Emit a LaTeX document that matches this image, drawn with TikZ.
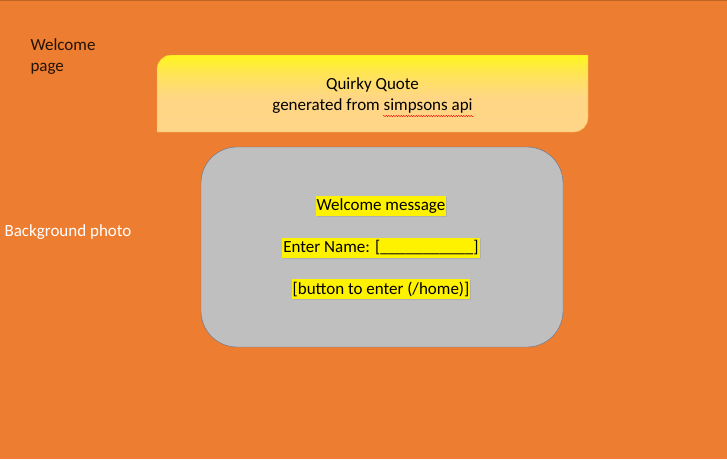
\documentclass[tikz,border=0pt]{standalone}
\usepackage{fontspec}
\setmainfont{Carlito}
\usepackage{tikz}
\usetikzlibrary{decorations.pathmorphing,shadows}

\definecolor{bgorange}{HTML}{ED7D31}
\definecolor{quotetop}{HTML}{FFF51F}
\definecolor{quotebot}{HTML}{FFD589}
\definecolor{quoteline}{HTML}{F4B33A}
\definecolor{panelgrey}{HTML}{BFBFBF}
\definecolor{panelline}{HTML}{5F7391}

\pgfdeclareverticalshading{quoteshade}{100bp}{color(0bp)=(quotebot); color(25bp)=(quotebot);
  color(48bp)=(quotebot!95!quotetop); color(62bp)=(quotebot!55!quotetop);
  color(75bp)=(quotetop); color(100bp)=(quotetop)}

\begin{document}
\begin{tikzpicture}[x=1pt, y=-1pt, line join=round, line cap=round,
  font=\fontsize{17}{21}\selectfont,
  mark text/.style={fill=yellow, inner xsep=1pt, inner ysep=3pt,
    drop shadow={opacity=0.25, shadow xshift=1pt, shadow yshift=-1pt}}]

  % draw background
  \fill[bgorange] (0,0) rectangle (727,459);
  \useasboundingbox (0,0) rectangle (727,459);
  \draw[bgorange!80!black, line width=1pt] (0,0.5) -- (727,0.5);

  % Box properties
  \def\radius{14}  % corner of the quote box
  \def\panelradius{36}  % corner of the grey panel

  % quote box, rounded top left and bottom right
  \draw[quoteline, shading=quoteshade]
    (157,132) -- (157,55+\radius) arc[start angle=180, end angle=270, radius=\radius]
    -- (588,55) -- (588,132-\radius) arc[start angle=0, end angle=90, radius=\radius]
    -- cycle;
  \node[align=center] (quote) at (372.5,96) {Quirky Quote\\generated from simpsons api};
  \draw[red, decorate, decoration={snake, amplitude=0.7pt, segment length=2.5pt}]
    (383,116) -- (474,116);

  % grey panel
  \draw[draw=panelline, fill=panelgrey, rounded corners=\panelradius]
    (201,147) rectangle (563,347);
  \node[mark text] (welcome) at (381,206) {Welcome message};
  \node[mark text] (name) at (381,248) {Enter Name: [\_\_\_\_\_\_\_\_\_\_\_]};
  \node[mark text] (button) at (381,289) {[button to enter (/home)]};

  % labels
  \node[anchor=west, align=left, text=black!85!bgorange] (page) at (27,57)
    {Welcome\\page};
  \node[anchor=west, text=white] (photo) at (1,232) {Background photo};

\end{tikzpicture}
\end{document}
